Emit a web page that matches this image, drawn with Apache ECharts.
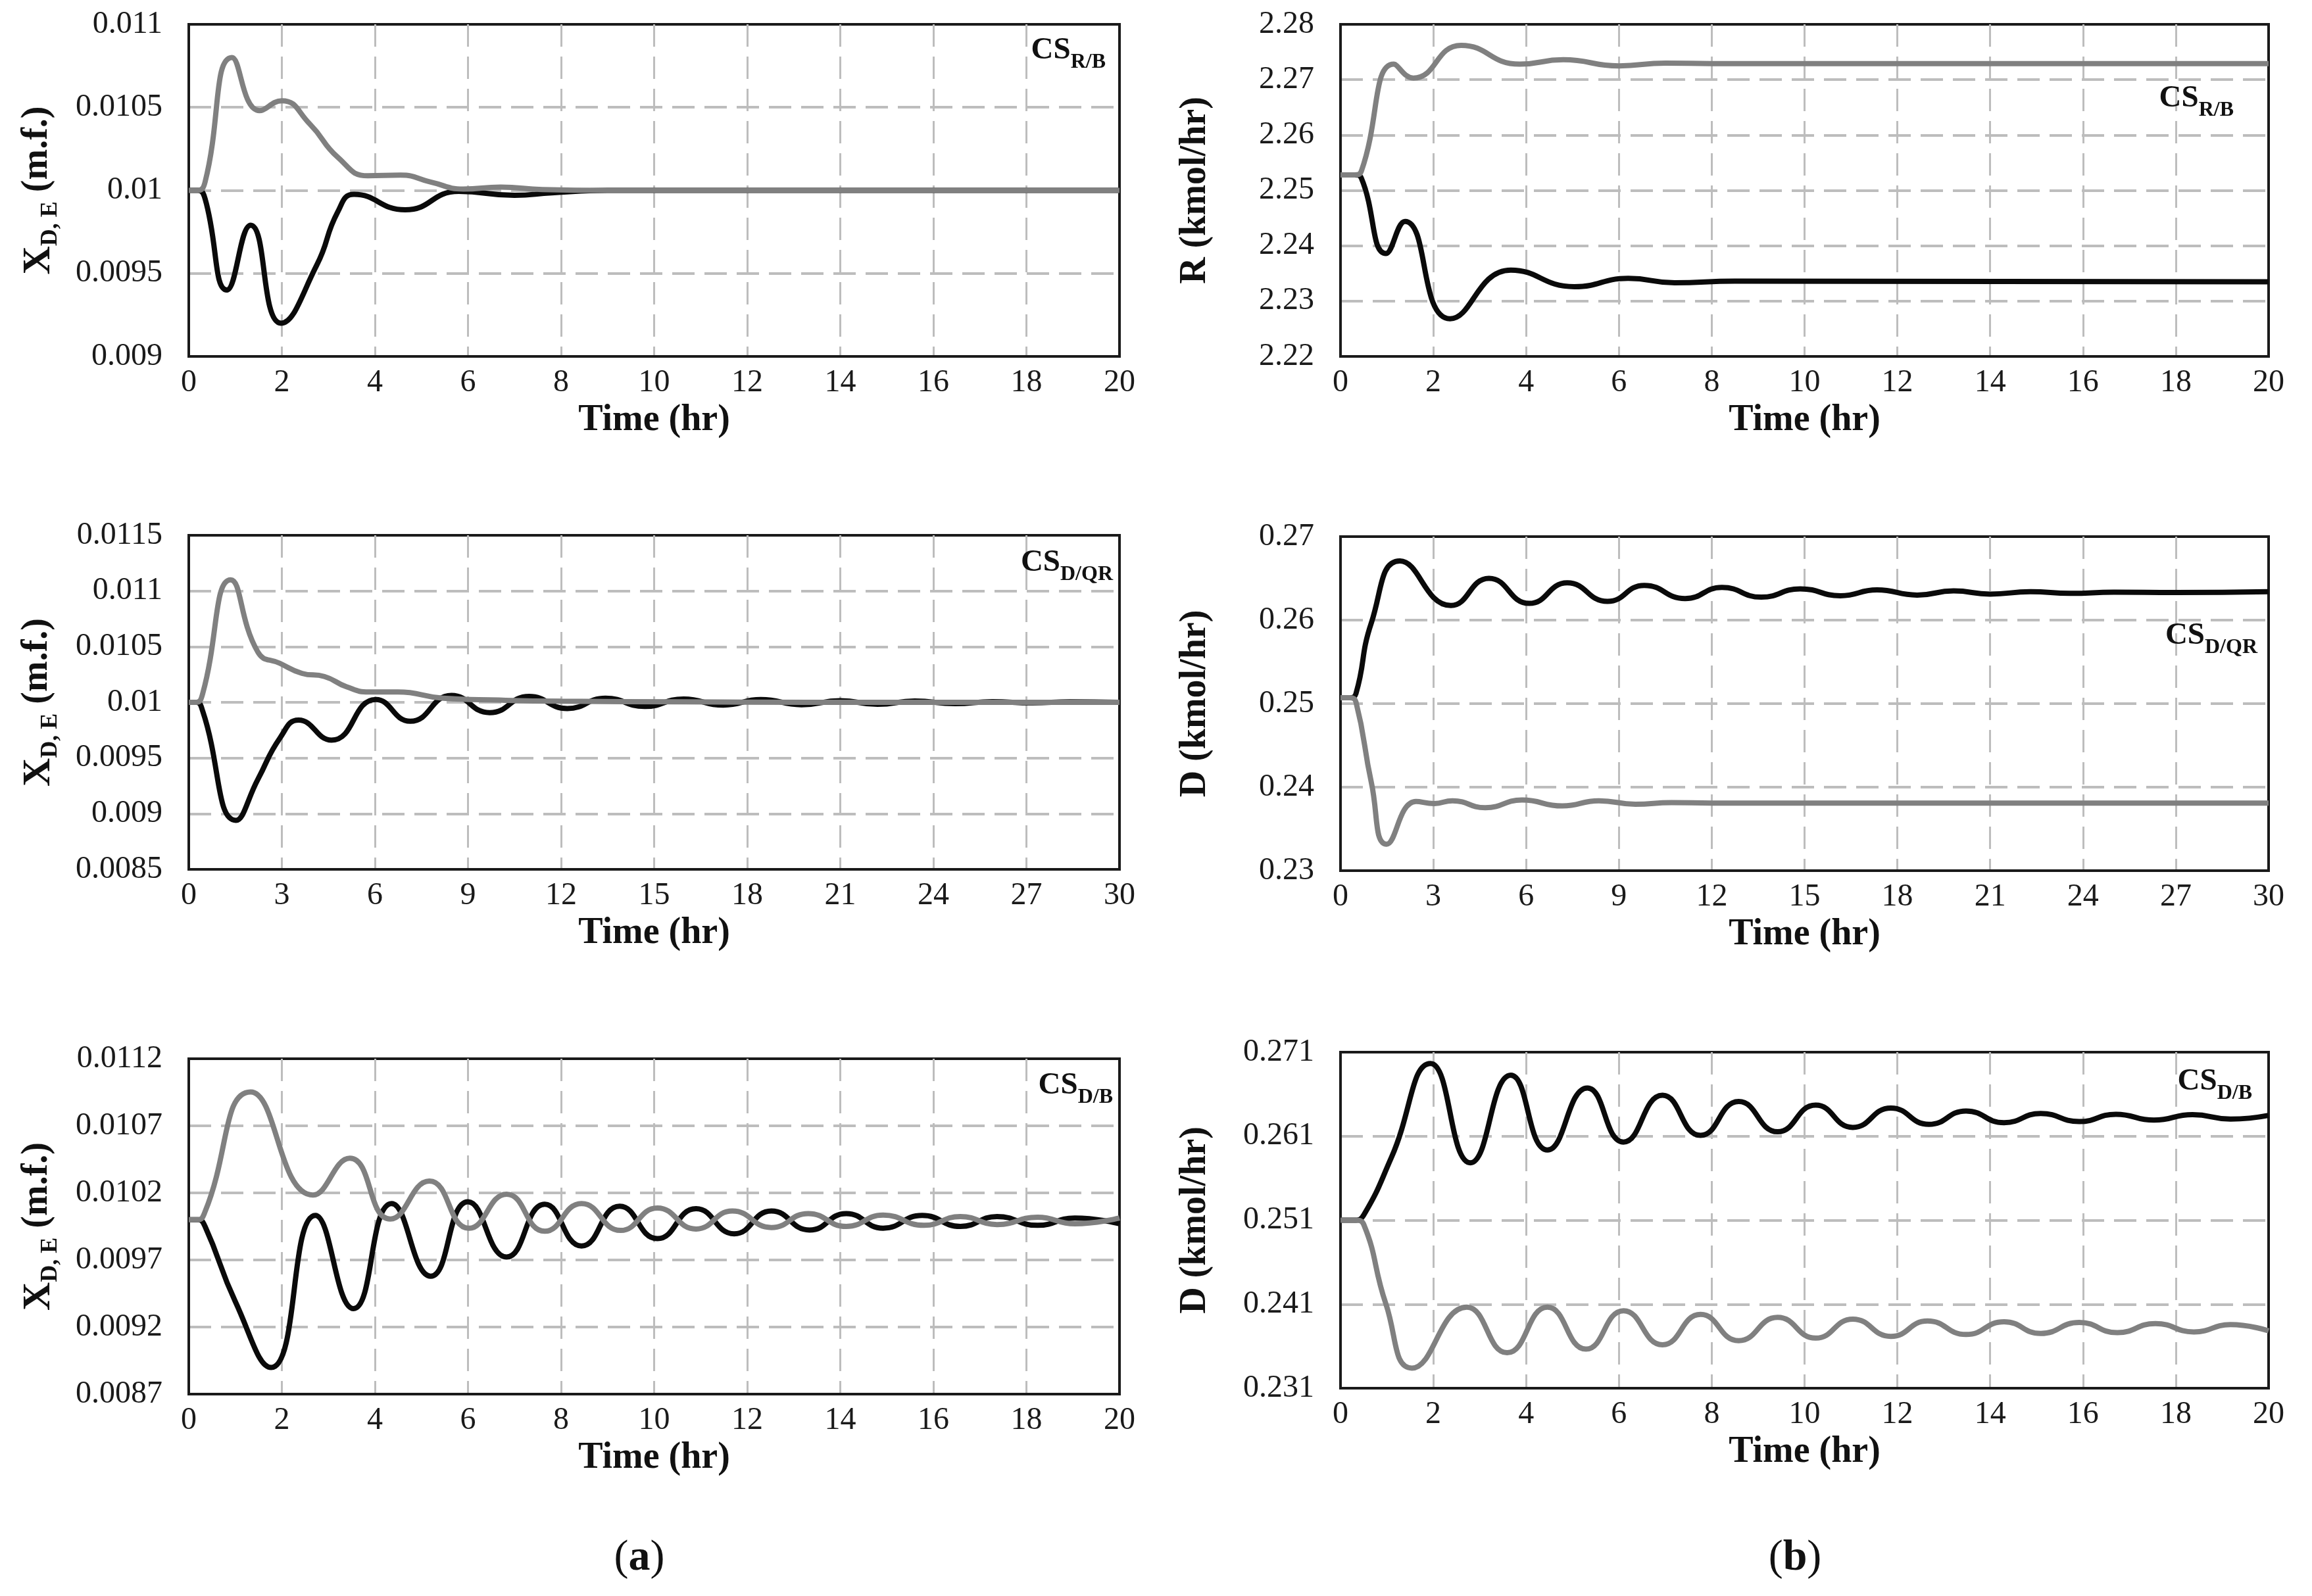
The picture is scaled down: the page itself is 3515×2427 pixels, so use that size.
<!DOCTYPE html>
<html>
<head>
<meta charset="utf-8">
<title>Dynamic responses</title>
<script src="https://cdn.jsdelivr.net/npm/echarts@6/dist/echarts.min.js"></script>
<style>
  html, body { margin: 0; padding: 0; background: #fff; }
  #main { width: 3515px; height: 2427px; }
</style>
</head>
<body>
<div id="main"></div>
<script>
// tick values for the axes
const timeTicks20 = [0, 2, 4, 6, 8, 10, 12, 14, 16, 18, 20];
const timeTicks30 = [0, 3, 6, 9, 12, 15, 18, 21, 24, 27, 30];
const yTicksA1 = [0.009, 0.0095, 0.01, 0.0105, 0.011];
const yTicksB1 = [2.22, 2.23, 2.24, 2.25, 2.26, 2.27, 2.28];
const yTicksA2 = [0.0085, 0.009, 0.0095, 0.01, 0.0105, 0.011, 0.0115];
const yTicksB2 = [0.23, 0.24, 0.25, 0.26, 0.27];
const yTicksA3 = [0.0087, 0.0092, 0.0097, 0.0102, 0.0107, 0.0112];
const yTicksB3 = [0.231, 0.241, 0.251, 0.261, 0.271];

// (a) CS R/B : X_D,E
const a1Black = [[0,0.01],[0.2,0.01],[0.35,0.00995],[0.82,0.0094],[1.33,0.00979],[1.98,0.0092],[2.75,0.00955],[3.2,0.00987],[3.55,0.009976],[4.65,0.009883],[5.8,0.009994],[7.0,0.00997],[7.8,0.009985],[9,0.01],[20,0.01]];
const a1Gray = [[0,0.01],[0.2,0.01],[0.35,0.01005],[0.93,0.0108],[1.52,0.01048],[2.0,0.01054],[2.6,0.0104],[3.2,0.0102],[3.85,0.010088],[4.55,0.010092],[5.2,0.01005],[5.9,0.010008],[6.7,0.01002],[7.6,0.010005],[9,0.01],[20,0.01]];
// (b) CS R/B : R
const b1Black = [[0,2.2528],[0.3,2.2528],[0.45,2.2522],[0.98,2.2386],[1.39,2.2444],[2.36,2.2268],[3.67,2.2356],[5.04,2.2326],[6.2,2.2341],[7.2,2.2333],[8.5,2.2336],[20,2.2335]];
const b1Gray = [[0,2.2528],[0.3,2.2528],[0.45,2.2535],[1.15,2.2728],[1.57,2.2703],[2.6,2.2762],[3.86,2.2728],[4.8,2.2736],[6.0,2.2725],[7.0,2.273],[8,2.2729],[20,2.2729]];
// (a) CS D/QR : X_D,E
const a2Black = [[0,0.01],[0.25,0.01],[0.45,0.00992],[1.52,0.00894],[2.23,0.00931],[2.94,0.00968],[3.54,0.00984],[4.6,0.00966],[6.03,0.010025],[7.14,0.00983],[8.47,0.010062],[9.7,0.009907],[10.97,0.010053],[12.2,0.009944],[13.43,0.010037],[14.7,0.009963],[15.95,0.01003],[17.23,0.009975],[18.44,0.010025],[19.75,0.009978],[21.0,0.010015],[22.2,0.009982],[23.4,0.010012],[24.7,0.009988],[25.9,0.010006],[27.2,0.009995],[28.4,0.010004],[30,0.01]];
const a2Gray = [[0,0.01],[0.25,0.01],[0.45,0.01008],[1.35,0.0111],[2.23,0.01045],[2.94,0.01035],[3.65,0.01026],[4.37,0.010232],[5.08,0.01014],[5.8,0.010093],[6.74,0.010093],[8.2,0.010037],[10,0.01002],[12,0.01001],[16,0.010005],[20,0.01],[30,0.01]];
// (b) CS D/QR : D
const b2Black = [[0,0.2507],[0.3,0.2507],[0.5,0.2512],[1.0,0.2597],[1.92,0.26708],[3.57,0.26175],[4.8,0.265],[6.1,0.262],[7.33,0.26446],[8.63,0.26224],[9.82,0.26416],[11.14,0.26258],[12.33,0.26392],[13.6,0.26275],[14.86,0.26375],[16.16,0.26292],[17.34,0.26362],[18.64,0.263],[19.82,0.2635],[21.0,0.26312],[22.3,0.2634],[23.6,0.2632],[25,0.26335],[27,0.2633],[30,0.2634]];
const b2Gray = [[0,0.2507],[0.3,0.2507],[0.5,0.2502],[1.0,0.2405],[1.49,0.23317],[2.44,0.23829],[3.03,0.23804],[3.62,0.23837],[4.68,0.23754],[5.87,0.23846],[7.17,0.23775],[8.35,0.23837],[9.53,0.23796],[10.7,0.23815],[12,0.2381],[30,0.2381]];
// (a) CS D/B : X_D,E
const a3Black = [[0,0.01],[0.2,0.01],[0.35,0.00995],[1.0,0.00939],[1.77,0.008898],[2.72,0.010032],[3.54,0.009337],[4.36,0.01012],[5.2,0.009579],[6.0,0.010134],[6.83,0.009722],[7.65,0.010115],[8.44,0.009804],[9.26,0.010101],[10.07,0.009859],[10.9,0.010082],[11.72,0.009895],[12.52,0.010065],[13.34,0.009923],[14.13,0.010046],[14.92,0.009937],[15.76,0.010032],[16.58,0.00995],[17.37,0.010024],[18.24,0.009958],[19.04,0.010013],[20,0.00997]];
const a3Gray = [[0,0.01],[0.2,0.01],[0.35,0.01006],[1.33,0.010953],[2.67,0.010184],[3.46,0.010458],[4.33,0.010005],[5.17,0.010288],[6.02,0.009936],[6.83,0.01019],[7.65,0.009914],[8.44,0.01012],[9.28,0.00992],[10.07,0.010087],[10.9,0.009931],[11.68,0.010065],[12.52,0.009942],[13.31,0.010046],[14.13,0.00995],[14.92,0.010035],[15.8,0.009958],[16.58,0.010024],[17.37,0.009964],[18.24,0.010019],[19.04,0.00997],[20,0.010013]];
// (b) CS D/B : D
const b3Black = [[0,0.251],[0.3,0.251],[0.5,0.2516],[1.1,0.2585],[1.94,0.26965],[2.8,0.25783],[3.67,0.26826],[4.46,0.25935],[5.32,0.26674],[6.1,0.2603],[6.94,0.26587],[7.76,0.26109],[8.58,0.26513],[9.42,0.26152],[10.24,0.2647],[11.04,0.26204],[11.86,0.26435],[12.68,0.2624],[13.48,0.264],[14.3,0.26261],[15.09,0.2637],[15.92,0.26274],[16.71,0.26361],[17.53,0.26291],[18.36,0.26357],[19.18,0.26304],[20,0.26348]];
const b3Gray = [[0,0.251],[0.3,0.251],[0.5,0.2505],[0.98,0.241],[1.54,0.23339],[2.72,0.24065],[3.59,0.23522],[4.46,0.24065],[5.29,0.23565],[6.1,0.24022],[6.94,0.23617],[7.76,0.23978],[8.58,0.23665],[9.42,0.23943],[10.24,0.23696],[11.04,0.23922],[11.86,0.23717],[12.65,0.239],[13.48,0.23739],[14.3,0.23891],[15.09,0.23752],[15.92,0.23883],[16.74,0.23761],[17.56,0.2387],[18.39,0.2377],[19.18,0.23857],[20,0.23783]];

const serif = "'Liberation Serif', 'Times New Roman', serif";
const nameX = '{x|X}{s|D, E}{t| (m.f.)}';

const panels = [
  { box: [287, 37, 1415, 505],   xt: timeTicks20, yt: yTicksA1, name: nameX, black: a1Black, gray: a1Gray, cs: ['R/B', 1681, 82] },
  { box: [2038, 37, 1411, 505],  xt: timeTicks20, yt: yTicksB1, name: 'R (kmol/hr)', black: b1Black, gray: b1Gray, cs: ['R/B', 3396, 155] },
  { box: [287, 814, 1415, 508],  xt: timeTicks30, yt: yTicksA2, name: nameX, black: a2Black, gray: a2Gray, cs: ['D/QR', 1692, 861] },
  { box: [2038, 816, 1411, 508], xt: timeTicks30, yt: yTicksB2, name: 'D (kmol/hr)', black: b2Black, gray: b2Gray, cs: ['D/QR', 3432, 972] },
  { box: [287, 1610, 1415, 510], xt: timeTicks20, yt: yTicksA3, name: nameX, black: a3Black, gray: a3Gray, cs: ['D/B', 1692, 1656] },
  { box: [2038, 1600, 1411, 511], xt: timeTicks20, yt: yTicksB3, name: 'D (kmol/hr)', black: b3Black, gray: b3Gray, cs: ['D/B', 3424, 1650] }
];

const fmt = v => String(parseFloat(v.toFixed(6)));
const grid = [], xAxis = [], yAxis = [], series = [], graphic = [];

panels.forEach((p, i) => {
  grid.push({
    left: p.box[0], top: p.box[1], width: p.box[2], height: p.box[3],
    show: true, borderColor: '#1a1a1a', borderWidth: 4
  });
  xAxis.push({
    gridIndex: i, type: 'value',
    min: p.xt[0], max: p.xt[p.xt.length - 1], interval: p.xt[1] - p.xt[0],
    axisLine: { show: true, onZero: false, lineStyle: { color: '#1a1a1a', width: 4 } },
    axisTick: { show: false },
    axisLabel: { margin: 16, fontSize: 48, color: '#1a1a1a', fontFamily: serif },
    splitLine: { show: true, showMinLine: false, showMaxLine: false, lineStyle: { color: '#bdbdbd', width: 3, type: [34, 15] } },
    name: 'Time (hr)', nameLocation: 'middle', nameGap: 70,
    nameTextStyle: { fontSize: 56, fontWeight: 'bold', color: '#111', fontFamily: serif }
  });
  yAxis.push({
    gridIndex: i, type: 'value',
    min: p.yt[0], max: p.yt[p.yt.length - 1],
    interval: +(p.yt[1] - p.yt[0]).toFixed(6),
    axisLine: { show: true, lineStyle: { color: '#1a1a1a', width: 3 } },
    axisTick: { show: false },
    axisLabel: { margin: 40, fontSize: 48, color: '#1a1a1a', fontFamily: serif, formatter: fmt },
    splitLine: { show: true, showMinLine: false, showMaxLine: false, lineStyle: { color: '#bdbdbd', width: 4, type: [34, 15] } },
    name: p.name, nameLocation: 'middle', nameGap: 192,
    nameTextStyle: {
      fontSize: 56, fontWeight: 'bold', color: '#111', fontFamily: serif,
      rich: {
        x: { fontSize: 60, fontWeight: 'bold', fontFamily: serif, color: '#111', verticalAlign: 'top' },
        s: { fontSize: 36, fontWeight: 'bold', fontFamily: serif, color: '#111', padding: [30, 0, 0, 0] },
        t: { fontSize: 56, fontWeight: 'bold', fontFamily: serif, color: '#111', verticalAlign: 'top' }
      }
    }
  });
  series.push({
    type: 'line', xAxisIndex: i, yAxisIndex: i, data: p.black,
    smooth: 0.5, symbol: 'none', silent: true,
    lineStyle: { color: '#0a0a0a', width: 8 }
  });
  series.push({
    type: 'line', xAxisIndex: i, yAxisIndex: i, data: p.gray,
    smooth: 0.5, symbol: 'none', silent: true,
    lineStyle: { color: '#808080', width: 8 }
  });
  graphic.push({
    type: 'text', x: p.cs[1], y: p.cs[2], z: 10,
    style: {
      text: '{m|CS}{s|' + p.cs[0] + '}', align: 'right', verticalAlign: 'middle',
      rich: {
        m: { fontSize: 47, fontWeight: 'bold', fontFamily: serif, fill: '#111', verticalAlign: 'top' },
        s: { fontSize: 32, fontWeight: 'bold', fontFamily: serif, fill: '#111', padding: [25, 0, 0, 0] }
      }
    }
  });
});

// panel captions
[['a', 972, 2370], ['b', 2729, 2370]].forEach(c => {
  graphic.push({
    type: 'text', x: c[1], y: c[2],
    style: {
      text: '{p|(}{b|' + c[0] + '}{p|)}', align: 'center', verticalAlign: 'middle',
      rich: {
        p: { fontSize: 66, fontFamily: serif, fill: '#111' },
        b: { fontSize: 66, fontWeight: 'bold', fontFamily: serif, fill: '#111' }
      }
    }
  });
});

const myChart = echarts.init(document.getElementById('main'));
myChart.setOption({
  animation: false,
  backgroundColor: '#fff',
  grid, xAxis, yAxis, series, graphic
});
</script>
</body>
</html>
